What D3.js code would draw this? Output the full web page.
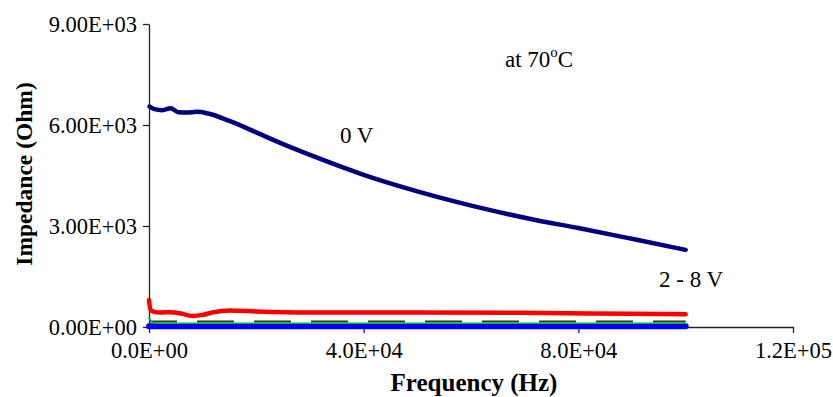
<!DOCTYPE html>
<html><head><meta charset="utf-8">
<script src="https://cdn.jsdelivr.net/npm/d3@7"></script>
<style>body{margin:0;background:#fff}svg{display:block}text{font-family:"Liberation Serif","Times New Roman",serif}</style>
</head><body><svg id="c" width="833" height="397"></svg>
<script>
const xTicks = [0, 40000, 80000, 120000];
const xTickLabels = ["0.0E+00", "4.0E+04", "8.0E+04", "1.2E+05"];
const yTicks = [0, 3000, 6000, 9000];
const yTickLabels = ["0.00E+00", "3.00E+03", "6.00E+03", "9.00E+03"];

const freq0V = [100, 1000, 2500, 4000, 5500, 7000, 9000, 11000, 15000, 20000, 25000, 30000, 40000, 50000, 56000, 65000, 72000, 80000, 90000, 100000];
const imp0V  = [6550, 6470, 6440, 6500, 6380, 6370, 6390, 6340, 6120, 5780, 5430, 5110, 4520, 4030, 3770, 3420, 3180, 2940, 2620, 2290];

const freqHi = [0, 300, 1000, 2000, 4000, 6000, 8000, 10000, 12000, 15000, 20000, 30000, 50000, 70000, 90000, 100000];
const impHi  = [800, 500, 450, 430, 440, 400, 330, 360, 440, 490, 460, 430, 430, 420, 390, 380];

const freqDash = [0, 100000];
const impDash  = [165, 165];

const freqGreen = [0, 400, 1000, 3000, 100000];
const impGreen  = [270, 170, 120, 110, 110];

const freqBlue = [0, 100000];
const impBlue  = [20, 20];

const svg = d3.select("#c");
const x = d3.scaleLinear().domain([0, 120000]).range([149, 793]);
const y = d3.scaleLinear().domain([0, 9000]).range([327, 24]);
const serif = '"Liberation Serif","Times New Roman",serif';

// axes
const xa = svg.append("g").attr("transform", "translate(0,327)")
  .call(d3.axisBottom(x).tickValues(xTicks).tickSize(6).tickSizeOuter(0).tickFormat((d,i)=>xTickLabels[i]));
const ya = svg.append("g").attr("transform", "translate(149,0)")
  .call(d3.axisLeft(y).tickValues(yTicks).tickSize(6).tickSizeOuter(0).tickFormat((d,i)=>yTickLabels[i]));
[xa, ya].forEach(a => {
  a.attr("font-size", null).attr("font-family", serif);
  a.select(".domain").attr("stroke", "#222").attr("stroke-width", 1.3);
  a.selectAll(".tick line").attr("stroke", "#222").attr("stroke-width", 1.3);
  a.selectAll(".tick text").attr("font-size", 22.5).attr("fill", "#000")
    .attr("font-family", serif);
});
xa.selectAll(".tick text").attr("dy", null).attr("y", 31);
ya.selectAll(".tick text").attr("x", -12).attr("dy", "0.34em");

const line = d3.line().x(d => x(d[0])).y(d => y(d[1])).curve(d3.curveMonotoneX);
const draw = (f, v, color, w, dash, off) => svg.append("path")
  .datum(f.map((d, i) => [d, v[i]]))
  .attr("d", line).attr("fill", "none").attr("stroke", color)
  .attr("stroke-width", w).attr("stroke-linecap", dash ? "butt" : "round").attr("stroke-linejoin", "round")
  .attr("stroke-dasharray", dash || null).attr("stroke-dashoffset", off || null);

draw(freqHi, impHi, "#ff0000", 4.5);
draw(freqDash, impDash, "#333", 2, "37,20", 9);
draw(freqBlue, impBlue, "#0000ff", 6);
draw(freqGreen, impGreen, "#00c000", 1.6);
draw(freq0V, imp0V, "#000080", 4.5);

// labels
const lbl = (xx, yy, size) => svg.append("text").attr("x", xx).attr("y", yy)
  .attr("font-size", size).attr("font-family", serif);
lbl(340, 143, 23).text("0 V");
lbl(659, 287, 23).text("2 - 8 V");
const t = lbl(505, 67, 23);
t.append("tspan").text("at 70");
t.append("tspan").attr("font-size", 15).attr("dy", -10).text("o");
t.append("tspan").attr("dy", 10).text("C");

lbl(474, 391, 25).attr("text-anchor", "middle").attr("font-weight", "bold").text("Frequency (Hz)");
svg.append("text").attr("transform", "translate(32,174) rotate(-90)").attr("text-anchor", "middle")
  .attr("font-family", serif).attr("font-size", 23.5).attr("font-weight", "bold").text("Impedance (Ohm)");
</script></body></html>
